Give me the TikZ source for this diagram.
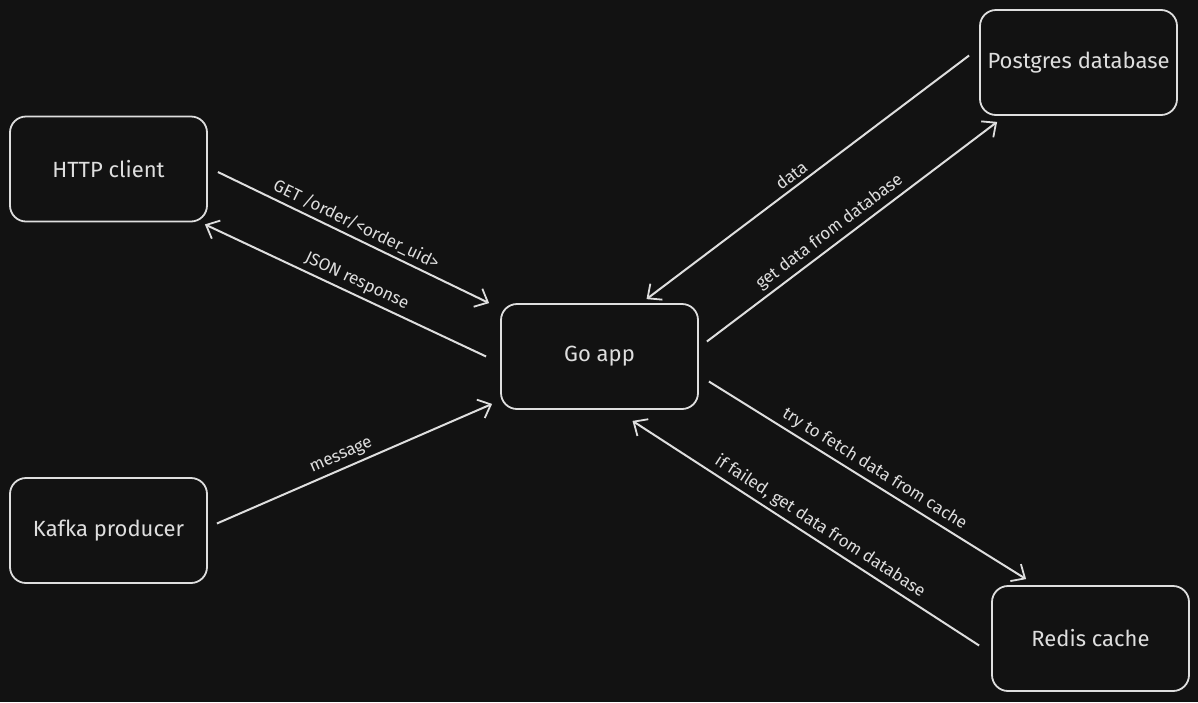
\documentclass[tikz,border=0pt]{standalone}
\usepackage{fontspec}
\setmainfont{Fira Sans}
\usetikzlibrary{arrows.meta}
\definecolor{bg}{HTML}{121212}
\definecolor{ink}{HTML}{DEDEDE}
\tikzset{
  box/.style={draw=ink, line width=1.8pt, rounded corners=16pt, minimum width=197pt, minimum height=105pt, text=ink, font=\fontsize{22}{26}\selectfont, inner sep=0pt},
  conn/.style={draw=ink, line width=2pt, -{Straight Barb[length=11pt,width=20pt,line width=1.8pt]}},
  lbl/.style={text=ink, font=\fontsize{17}{20}\selectfont, sloped, above, inner sep=4pt}
}
\begin{document}
\begin{tikzpicture}[x=1pt,y=-1pt]
\fill[bg] (0,0) rectangle (1198,702);
\useasboundingbox (0,0) rectangle (1198,702);
\node[box] (http) at (108.5,169) {HTTP client};
\node[box] (kafka) at (108.5,530.5) {Kafka producer};
\node[box] (go) at (599.5,356.5) {Go app};
\node[box] (pg) at (1078.5,62.5) {Postgres database};
\node[box] (redis) at (1090.5,638.5) {Redis cache};
\draw[conn] ([shift={(10,3)}]http.east) -- node[lbl, pos=0.49] {GET /order/<order\_uid>} ([shift={(-11,0)}]go.north west);
\draw[conn] ([shift={(-14,0)}]go.west) -- node[lbl, pos=0.48] {JSON response} ([shift={(-3,2)}]http.south east);
\draw[conn] ([shift={(9,-7)}]kafka.east) -- node[lbl, pos=0.47] {message} ([shift={(-8,-6)}]go.south west);
\draw[conn] ([shift={(-10,-7)}]pg.west) -- node[lbl, pos=0.53] {data} ([shift={(47,-4)}]go.north);
\draw[conn] ([shift={(8,-15)}]go.east) -- node[lbl, pos=0.45] {get data from database} ([shift={(18,6)}]pg.south west);
\draw[conn] ([shift={(10,25)}]go.east) -- node[lbl, pos=0.5] {try to fetch data from cache} ([shift={(35,-6)}]redis.north west);
\draw[conn] ([shift={(-12,7)}]redis.west) -- node[lbl, pos=0.48] {if failed, get data from database} ([shift={(33,11)}]go.south);
\end{tikzpicture}
\end{document}
